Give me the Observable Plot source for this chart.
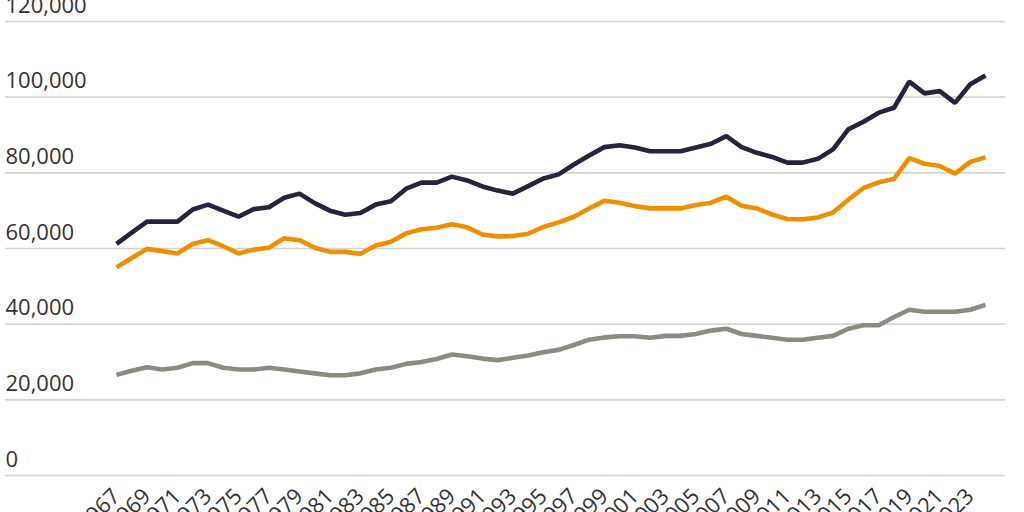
<!DOCTYPE html>
<html>
<head>
<meta charset="utf-8">
<script src="https://cdn.jsdelivr.net/npm/d3@7"></script>
<script src="https://cdn.jsdelivr.net/npm/@observablehq/plot@0.6"></script>
<style>
  html, body { margin: 0; padding: 0; background: #fff; overflow: hidden; }
  #chart svg { display: block; }
</style>
</head>
<body>
<div id="chart"></div>
<script>
const years = d3.range(1967, 2025);
const tickYears = d3.range(1967, 2024, 2);
const yTicks = [0, 20000, 40000, 60000, 80000, 100000, 120000];

const seriesTop = [61.2, 64.2, 67.1, 67.1, 67.1, 70.3, 71.6, 70.0, 68.4, 70.4,
  70.9, 73.4, 74.5, 72.0, 70.0, 68.9, 69.4, 71.6, 72.5, 75.8,
  77.4, 77.4, 79.0, 78.0, 76.4, 75.3, 74.5, 76.5, 78.5, 79.6,
  82.2, 84.6, 86.8, 87.3, 86.7, 85.7, 85.7, 85.7, 86.7, 87.7,
  89.7, 86.8, 85.3, 84.2, 82.7, 82.7, 83.7, 86.2, 91.5, 93.5,
  95.9, 97.2, 104.1, 101.0, 101.6, 98.5, 103.4, 105.7];
const seriesMid = [55.0, 57.5, 59.9, 59.3, 58.7, 61.2, 62.2, 60.6, 58.7, 59.7,
  60.2, 62.7, 62.2, 60.2, 59.1, 59.1, 58.6, 60.8, 61.8, 64.0,
  65.1, 65.5, 66.4, 65.6, 63.7, 63.2, 63.3, 63.9, 65.7, 66.9,
  68.4, 70.6, 72.6, 72.1, 71.2, 70.6, 70.6, 70.6, 71.5, 72.1,
  73.7, 71.3, 70.6, 69.0, 67.8, 67.7, 68.2, 69.5, 72.9, 76.0,
  77.5, 78.4, 83.9, 82.4, 81.8, 79.8, 82.9, 84.1];
const seriesLow = [26.6, 27.7, 28.6, 28.0, 28.5, 29.7, 29.7, 28.5, 28.0, 28.0,
  28.5, 28.0, 27.5, 27.0, 26.5, 26.5, 27.0, 28.0, 28.5, 29.5,
  30.0, 30.8, 32.0, 31.5, 30.9, 30.5, 31.1, 31.7, 32.6, 33.2,
  34.5, 35.9, 36.5, 36.8, 36.8, 36.4, 36.9, 36.9, 37.4, 38.3,
  38.8, 37.4, 36.9, 36.4, 35.9, 35.9, 36.4, 36.9, 38.8, 39.7,
  39.7, 41.9, 43.8, 43.3, 43.3, 43.3, 43.8, 45.1];

const seriesNames = ["Top", "Middle", "Low"];
const seriesColors = ["#26223f", "#ef8f00", "#8e8981"];
const allSeries = [seriesTop, seriesMid, seriesLow];

const rows = [];
allSeries.forEach((vals, i) => {
  vals.forEach((v, j) => rows.push({series: seriesNames[i], year: years[j], value: v * 1000}));
});

const fmt = d3.format(",");

const chart = Plot.plot({
  width: 1024,
  height: 512,
  marginLeft: 5,
  marginRight: 19,
  marginTop: 21,
  marginBottom: 37,
  style: {fontFamily: "'Open Sans', sans-serif", fontSize: "22px", color: "#333", background: "#fff"},
  x: {domain: [1967, 2024], range: [116, 985]},
  y: {domain: [0, 120000]},
  color: {domain: seriesNames, range: seriesColors},
  marks: [
    Plot.ruleY(yTicks, {stroke: "#d3d3d3", strokeWidth: 1.6}),
    Plot.axisY({ticks: yTicks, tickFormat: fmt, tickSize: 0, tickPadding: 0, anchor: "left",
      textAnchor: "start", lineAnchor: "bottom", dx: 0, dy: -9, fill: "#333", fontSize: 22,
      label: null, style: {letterSpacing: "1.7px"}}),
    Plot.axisX({ticks: tickYears, tickFormat: d => String(d), tickSize: 0, tickPadding: 17,
      tickRotate: -45, fill: "#333", fontSize: 22, label: null, style: {letterSpacing: "0.6px"}}),
    Plot.line(rows, {x: "year", y: "value", z: "series", stroke: "series", strokeWidth: 4.6,
      strokeLinejoin: "miter", strokeLinecap: "butt", curve: "linear"})
  ]
});
document.getElementById("chart").appendChild(chart);
</script>
</body>
</html>
